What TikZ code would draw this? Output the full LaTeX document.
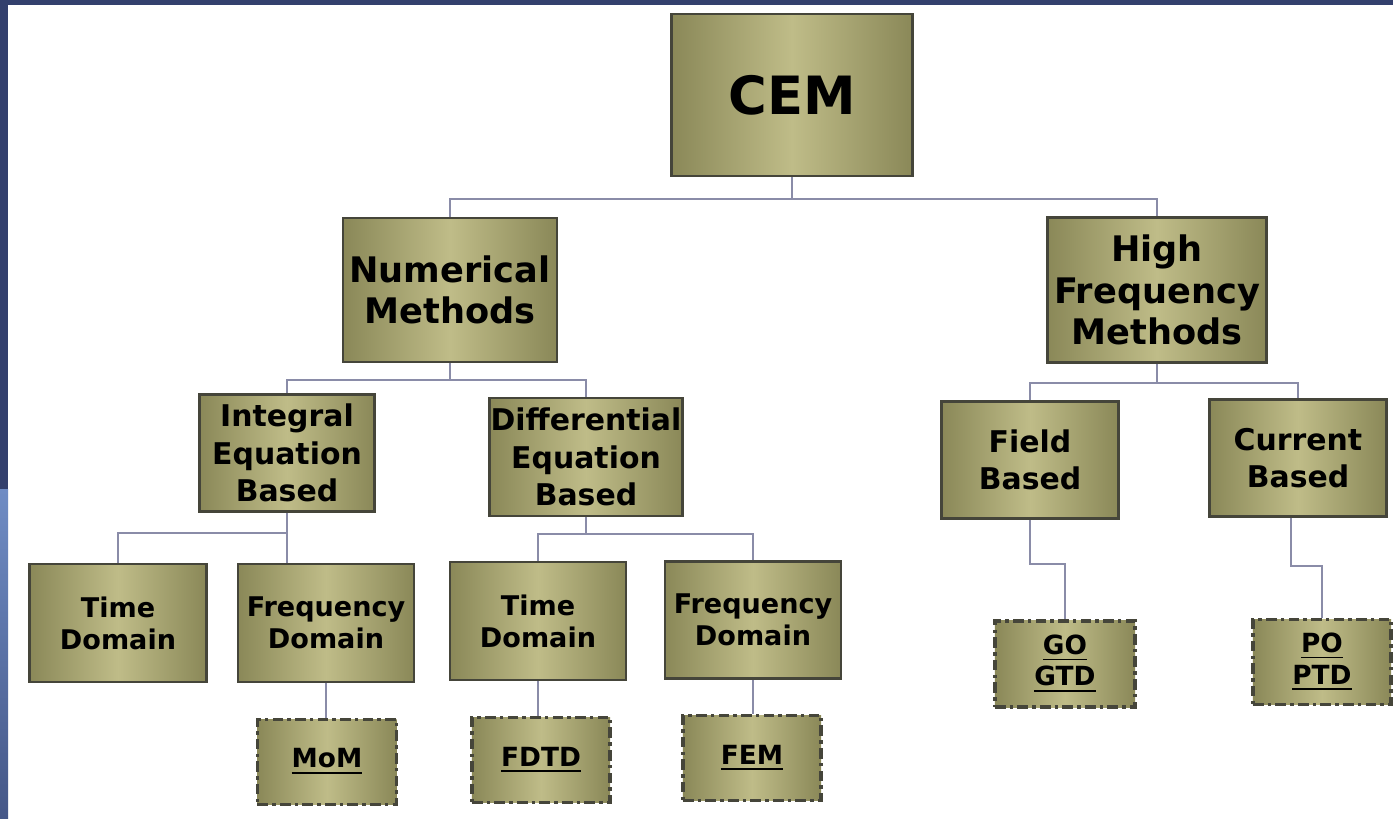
\documentclass[tikz,border=0pt]{standalone}
\usepackage{fontspec}
\setmainfont{DejaVu Sans}
\definecolor{frameblue}{HTML}{33406D}
\definecolor{framelight}{HTML}{6F8CC4}
\definecolor{oliveL}{HTML}{BFBC88}
\definecolor{oliveD}{HTML}{8A8858}
\definecolor{boxline}{HTML}{45453A}
\definecolor{linkc}{HTML}{8A8CA8}
\begin{document}
\begin{tikzpicture}[x=0.01cm,y=-0.01cm,
  box/.style={draw=boxline,line width=0.7pt,left color=oliveD,right color=oliveD,middle color=oliveL,align=center,inner sep=0pt},
  leaf/.style={box,dash pattern=on 3pt off 1.2pt on 1pt off 1.2pt,line width=0.9pt,font=\bfseries\fontsize{7.5}{9}\selectfont},
  topfont/.style={font=\bfseries\fontsize{15}{18}\selectfont},
  midfont/.style={font=\bfseries\fontsize{10}{11.7}\selectfont},
  subfont/.style={font=\bfseries\fontsize{8.5}{10.6}\selectfont},
  lowfont/.style={font=\bfseries\fontsize{7.7}{9.1}\selectfont},
  link/.style={draw=linkc,line width=0.5pt}]
\useasboundingbox (0,0) rectangle (1393,819);
\fill[white] (0,0) rectangle (1393,819);
\fill[frameblue] (0,0) rectangle (1393,5);
\fill[frameblue] (0,0) rectangle (8,490);
\shade[top color=framelight,bottom color=frameblue!70!framelight] (0,490) rectangle (8,819);

\node[box,topfont,minimum width=2.41cm,minimum height=1.62cm] (cem) at (792,95) {CEM};
\node[box,midfont,minimum width=2.14cm,minimum height=1.44cm] (num) at (450,290) {Numerical\\Methods};
\node[box,midfont,minimum width=2.19cm,minimum height=1.45cm] (hfm) at (1157,290) {High\\Frequency\\Methods};
\node[box,subfont,minimum width=1.75cm,minimum height=1.17cm] (ieb) at (287,453) {Integral\\Equation\\Based};
\node[box,subfont,minimum width=1.93cm,minimum height=1.18cm] (deb) at (586,457) {Differential\\Equation\\Based};
\node[box,subfont,minimum width=1.77cm,minimum height=1.17cm] (fb) at (1030,460) {Field\\Based};
\node[box,subfont,minimum width=1.77cm,minimum height=1.17cm] (cb) at (1298,458) {Current\\Based};
\node[box,lowfont,minimum width=1.77cm,minimum height=1.18cm] (td1) at (118,623) {Time\\Domain};
\node[box,lowfont,minimum width=1.76cm,minimum height=1.18cm] (fd1) at (326,623) {Frequency\\Domain};
\node[box,lowfont,minimum width=1.76cm,minimum height=1.18cm] (td2) at (538,621) {Time\\Domain};
\node[box,lowfont,minimum width=1.76cm,minimum height=1.17cm] (fd2) at (753,620) {Frequency\\Domain};
\node[leaf,minimum width=1.39cm,minimum height=0.85cm] (mom) at (327,762) {\underline{MoM}};
\node[leaf,minimum width=1.38cm,minimum height=0.85cm] (fdtd) at (541,760) {\underline{FDTD}};
\node[leaf,minimum width=1.38cm,minimum height=0.85cm] (fem) at (752,758) {\underline{FEM}};
\node[leaf,minimum width=1.40cm,minimum height=0.86cm] (go) at (1065,664) {\underline{GO}\\\underline{GTD}};
\node[leaf,minimum width=1.38cm,minimum height=0.85cm] (po) at (1322,662) {\underline{PO}\\\underline{PTD}};

\path[link] (cem.south) -- ++(0,22) -| (num.north);
\path[link] (cem.south) -- ++(0,22) -| (hfm.north);
\path[link] (num.south) -- ++(0,17) -| (ieb.north);
\path[link] (num.south) -- ++(0,17) -| (deb.north);
\path[link] (ieb.south) -- ++(0,20) -| (td1.north);
\path[link] (ieb.south) -- (ieb.south |- fd1.north);
\path[link] (deb.south) -- ++(0,17) -| (td2.north);
\path[link] (deb.south) -- ++(0,17) -| (fd2.north);
\path[link] (fd1.south) -- (fd1.south |- mom.north);
\path[link] (td2.south) -- (td2.south |- fdtd.north);
\path[link] (fd2.south) -- (fd2.south |- fem.north);
\path[link] (hfm.south) -- ++(0,19) -| (fb.north);
\path[link] (hfm.south) -- ++(0,19) -| (cb.north);
\path[link] (fb.south) -- ++(0,44) -| (go.north);
\path[link] ([xshift=-0.07cm]cb.south) -- ++(0,48) -| (po.north);
\end{tikzpicture}
\end{document}
